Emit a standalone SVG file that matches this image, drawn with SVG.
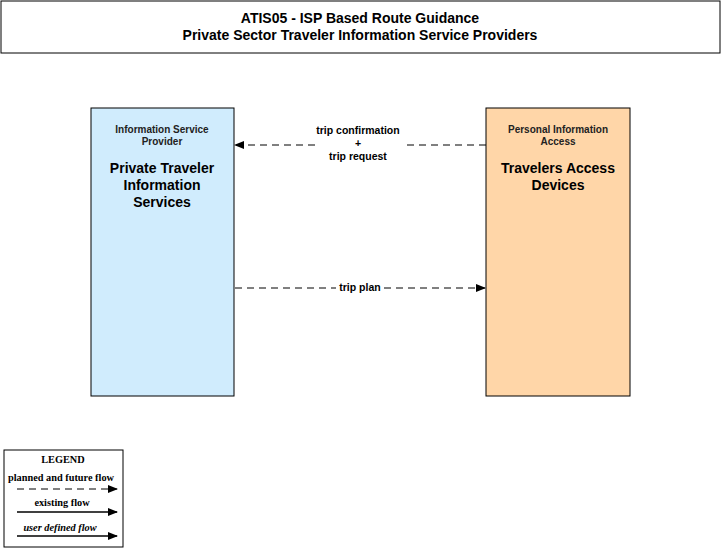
<svg xmlns="http://www.w3.org/2000/svg" width="721" height="549" viewBox="0 0 721 549">
<style>
.t{font-family:"Liberation Sans",Arial,sans-serif;font-weight:bold;fill:#000;text-anchor:middle}
.title{font-size:14px}
.sm{font-size:10px;fill:#222}
.big{font-size:14px}
.lbl{font-size:10.5px}
.lg{font-family:"Liberation Serif","Times New Roman",serif;font-size:10.3px;text-anchor:middle;fill:#000}
.dash{stroke:#000;stroke-width:1;fill:none;stroke-dasharray:7,5}
.solid{stroke:#000;stroke-width:1.5;fill:none}
</style>
<defs>
<marker id="ah" markerWidth="10" markerHeight="8" refX="9" refY="4" orient="auto" markerUnits="userSpaceOnUse">
<path d="M0,0 L10,4 L0,8 Z" fill="#000"/>
</marker>
</defs>
<rect width="721" height="549" fill="#fff"/>
<g id="title">
<rect x="1" y="1" width="719" height="52" fill="#fff" stroke="#000" stroke-width="1"/>
<text class="t title" x="360" y="23">ATIS05 - ISP Based Route Guidance</text>
<text class="t title" x="360" y="40">Private Sector Traveler Information Service Providers</text>
</g>
<g id="node-isp">
<rect x="91" y="108" width="143" height="288" fill="#D0ECFD" stroke="#000" stroke-width="1"/>
<text class="t sm" x="162" y="133">Information Service</text>
<text class="t sm" x="162" y="145">Provider</text>
<text class="t big" x="162" y="173">Private Traveler</text>
<text class="t big" x="162" y="190">Information</text>
<text class="t big" x="162" y="207">Services</text>
</g>
<g id="node-tad">
<rect x="486" y="108" width="144" height="288" fill="#FFD6A8" stroke="#000" stroke-width="1"/>
<text class="t sm" x="558" y="133">Personal Information</text>
<text class="t sm" x="558" y="145">Access</text>
<text class="t big" x="558" y="173">Travelers Access</text>
<text class="t big" x="558" y="190">Devices</text>
</g>
<g id="connectors">
<line class="dash" x1="486" y1="145" x2="405" y2="145"/>
<line class="dash" x1="315" y1="145" x2="235" y2="145" marker-end="url(#ah)"/>
<text class="t lbl" x="358" y="134">trip confirmation</text>
<text class="t lbl" x="358" y="147">+</text>
<text class="t lbl" x="358" y="160">trip request</text>
<line class="dash" x1="235" y1="288" x2="336" y2="288"/>
<line class="dash" x1="384" y1="288" x2="485" y2="288" marker-end="url(#ah)"/>
<text class="t lbl" x="360" y="291">trip plan</text>
</g>
<g id="legend">
<rect x="4" y="450" width="119" height="97" fill="#fff" stroke="#000" stroke-width="1"/>
<text class="lg" x="63" y="463" font-weight="bold">LEGEND</text>
<text class="lg" x="61" y="481" font-weight="bold">planned and future flow</text>
<line class="dash" x1="17" y1="489" x2="117" y2="489" stroke-dasharray="4,3" marker-end="url(#ah)"/>
<text class="lg" x="62" y="506" font-weight="bold">existing flow</text>
<line class="solid" x1="17" y1="512" x2="117" y2="512" marker-end="url(#ah)"/>
<text class="lg" x="60" y="531" font-weight="bold" font-style="italic">user defined flow</text>
<line class="solid" x1="17" y1="536" x2="117" y2="536" marker-end="url(#ah)"/>
</g>
</svg>
